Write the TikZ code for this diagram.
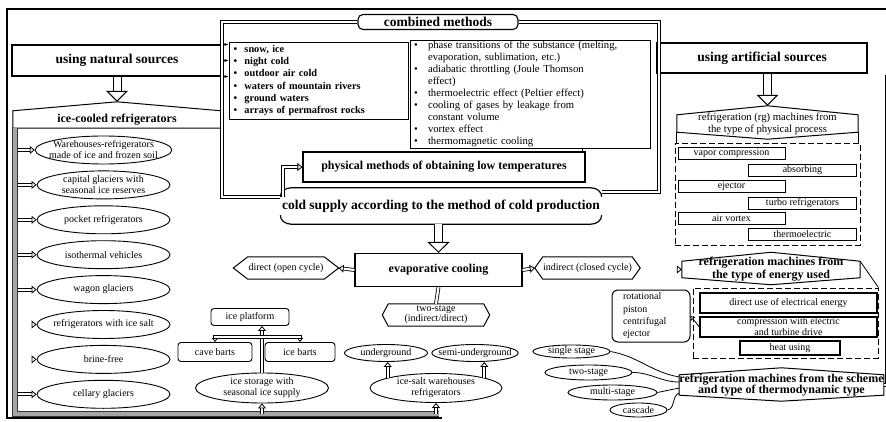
\documentclass[tikz,border=0pt]{standalone}
\usepackage{fontspec}
\setmainfont{Liberation Serif}
\usepackage{tikz}
\usetikzlibrary{arrows.meta,positioning,shapes.geometric}

\newcommand{\fbig}{\fontsize{13.5}{15}\selectfont\bfseries}
\newcommand{\fmid}{\fontsize{12}{13}\selectfont\bfseries}
\newcommand{\fsml}{\fontsize{10}{11}\selectfont}
\newcommand{\itm}[1]{\makebox[11pt][l]{\textbullet}#1}
\newcommand{\itmb}[1]{\makebox[14pt][l]{\textbullet}#1}
% outline of a plain node: peak on top and bottom / points left and right
\newcommand{\hexv}[3]{\draw[line width=1pt] (#1.north west) -- ([yshift=#2]#1.north) -- (#1.north east) -- (#1.south east) -- ([yshift=-#3]#1.south) -- (#1.south west) -- cycle;}
\newcommand{\hexh}[2]{\draw[line width=1pt] (#1.north west) -- (#1.north east) -- ([xshift=#2]#1.east) -- (#1.south east) -- (#1.south west) -- ([xshift=-#2]#1.west) -- cycle;}

\begin{document}
\begin{tikzpicture}[
  x=1pt, y=-1pt,
  box/.style={draw, line width=1.1pt, inner sep=0pt, align=center, font=\fsml},
  rbox/.style={box, rounded corners=3pt},
  oval/.style={draw, ellipse, line width=0.9pt, inner xsep=-6pt, inner ysep=-3pt, align=center, font=\fsml},
  hex/.style={inner xsep=0pt, inner ysep=-4pt, align=center, font=\fsml},
  grp/.style={draw, line width=0.9pt, dash pattern=on 6pt off 3pt, inner sep=0pt},
  dbl/.style={draw, line width=0.8pt, double, double distance=2.2pt},
  sdbl/.style={dbl, -{Triangle[open, length=5pt, width=8pt]}},
  blk/.style={draw, line width=1pt, double, double distance=7pt, -{Triangle[open, length=11pt, width=22pt]}},
  gbar/.style={draw=black!80, line width=0.8pt, double=black!35, double distance=4pt},
]
  \useasboundingbox (0,0) rectangle (886,422);
  \draw[line width=1.2pt] (442,418) -- (7,418) -- (7,9) -- (886,9);

  % top row
  \node[rbox, font=\fbig, rounded corners=5pt, minimum width=160pt, minimum height=15pt] (combined) at (438,22) {combined methods};
  \node[box, font=\fbig, minimum width=210pt, minimum height=31pt] (nat) at (117,60.5) {using natural sources};
  \node[box, font=\fbig, minimum width=210pt, minimum height=30pt] (art) at (762,58) {using artificial sources};
  \node[box, line width=0.9pt, font={\fontsize{10.3}{12.3}\selectfont\bfseries}, align=left, text width=170pt, minimum width=179pt, minimum height=77pt] (natlist) at (318.5,80.5)
    {\itm{snow, ice}\\ \itm{night cold}\\ \itm{outdoor air cold}\\ \itm{waters of mountain rivers}\\ \itm{ground waters}\\ \itm{arrays of permafrost rocks}};
  \node[box, line width=0.9pt, font={\fontsize{10.7}{12}\selectfont}, align=left, text width=232pt, minimum width=240pt, minimum height=108pt] (artlist) at (530,94)
    {\itmb{phase transitions of the substance (melting,}\\ \hspace*{14pt}evaporation, sublimation, etc.)\\
     \itmb{adiabatic throttling (Joule Thomson}\\ \hspace*{14pt}effect)\\
     \itmb{thermoelectric effect (Peltier effect)}\\
     \itmb{cooling of gases by leakage from}\\ \hspace*{14pt}constant volume\\
     \itmb{vortex effect}\\ \itmb{thermomagnetic cooling}};
  \node[box, font=\fmid, minimum width=282pt, minimum height=30pt] (phys) at (444,167) {physical methods of obtaining low temperatures};
  \node[font=\fbig, inner sep=0pt, minimum width=321pt, minimum height=36pt] (cold) at (441,206) {cold supply according to the method of cold production};
  \draw[line width=1.2pt] ([yshift=-9pt]cold.north west) to[out=90,in=180] ([xshift=11pt]cold.north west) -- ([xshift=-11pt]cold.north east) to[out=0,in=90] ([yshift=-9pt]cold.north east);
  \draw[line width=1.2pt] ([yshift=9pt]cold.south west) to[out=-90,in=180] ([xshift=11pt]cold.south west) -- ([xshift=-11pt]cold.south east) to[out=0,in=-90] ([yshift=9pt]cold.south east);

  % evaporative cooling
  \node[box, font=\fmid, minimum width=167pt, minimum height=33pt] (evap) at (438.5,270) {evaporative cooling};
  \node[hex, minimum width=76pt, minimum height=22pt] (direct) at (286,268) {direct (open cycle)};
  \hexh{direct}{14.5pt}
  \node[hex, minimum width=89pt, minimum height=22pt] (indirect) at (587.5,268) {indirect (closed cycle)};
  \hexh{indirect}{8pt}
  \node[hex, font={\fontsize{10}{10}\selectfont}, minimum width=95pt, minimum height=22pt] (twostage) at (436,315) {two-stage\\(indirect/direct)};
  \hexh{twostage}{6pt}

  % natural sources column
  \node[hex, font=\fmid, minimum width=208pt, minimum height=17pt] (ice) at (117,119.5) {ice-cooled refrigerators};
  \hexv{ice}{9pt}{0pt}
  \node[oval, minimum width=133pt, minimum height=28pt] (whouse) at (103.5,150) {Warehouses-refrigerators\\made of ice and frozen soil};
  \node[oval, minimum width=133pt, minimum height=28pt, below=6pt of whouse] (capital) {capital glaciers with\\seasonal ice reserves};
  \node[oval, minimum width=133pt, minimum height=28pt, below=6pt of capital] (pocket) {pocket refrigerators};
  \node[oval, minimum width=133pt, minimum height=28pt, below=6pt of pocket] (isotherm) {isothermal vehicles};
  \node[oval, minimum width=133pt, minimum height=28pt, below=6pt of isotherm] (wagon) {wagon glaciers};
  \node[oval, minimum width=133pt, minimum height=28pt, below=6pt of wagon] (icesaltr) {refrigerators with ice salt};
  \node[oval, minimum width=133pt, minimum height=28pt, below=6pt of icesaltr] (brine) {brine-free};
  \node[oval, minimum width=133pt, minimum height=28pt, below=6pt of brine] (cellar) {cellary glaciers};

  % ice storages
  \node[rbox, line width=0.9pt, minimum width=78pt, minimum height=17pt] (iceplat) at (250,317) {ice platform};
  \node[rbox, line width=0.9pt, minimum width=74pt, minimum height=19pt] (cave) at (215,352) {cave barts};
  \node[rbox, line width=0.9pt, minimum width=70pt, minimum height=19pt] (icebarts) at (300,352) {ice barts};
  \node[oval, minimum width=133pt, minimum height=30pt] (storage) at (262,388) {ice storage with\\seasonal ice supply};
  \node[oval, minimum width=83pt, minimum height=17pt] (under) at (386,353) {underground};
  \node[oval, minimum width=84pt, minimum height=17pt] (semi) at (475,353) {semi-underground};
  \node[oval, minimum width=132pt, minimum height=29pt] (icesalt) at (436,388) {ice-salt warehouses\\refrigerators};

  % artificial sources column
  \node[hex, font={\fontsize{10.7}{12}\selectfont}, minimum width=181pt, minimum height=17pt] (rg) at (767.5,123.5) {refrigeration (rg) machines from\\the type of physical process};
  \hexv{rg}{9pt}{7pt}
  \node[grp, minimum width=185pt, minimum height=102pt] (procgrp) at (767.5,194) {};
  \node[box, line width=0.9pt, minimum width=107pt, minimum height=12pt] (vapor) at (731.5,153) {vapor compression};
  \node[box, line width=0.9pt, minimum width=108pt, minimum height=12pt] (absorb) at (802.5,170) {absorbing};
  \node[box, line width=0.9pt, minimum width=107pt, minimum height=12pt] (ejector) at (731.5,186.5) {ejector};
  \node[box, line width=0.9pt, minimum width=108pt, minimum height=12pt] (turbo) at (802.5,203) {turbo refrigerators};
  \node[box, line width=0.9pt, minimum width=107pt, minimum height=12pt] (vortex) at (731.5,218.5) {air vortex};
  \node[box, line width=0.9pt, minimum width=108pt, minimum height=12pt] (thermoel) at (802.5,234.5) {thermoelectric};

  \node[hex, font=\fmid, minimum width=178pt, minimum height=15pt] (energy) at (771,269.5) {refrigeration machines from\\the type of energy used};
  \hexv{energy}{9pt}{7pt}
  \node[grp, minimum width=185pt, minimum height=70pt] (enggrp) at (785.5,323) {};
  \node[box, minimum width=177pt, minimum height=20pt] (elec) at (788.5,303) {direct use of electrical energy};
  \node[box, minimum width=177pt, minimum height=20pt] (compr) at (788.5,327) {compression with electric\\and turbine drive};
  \node[box, minimum width=100pt, minimum height=14pt] (heat) at (790,348) {heat using};
  \node[rbox, line width=1pt, rounded corners=6pt, align=left, font={\fontsize{10}{12.3}\selectfont}, text width=56pt, minimum width=78pt, minimum height=52pt] (drives) at (651,316) {rotational\\piston\\centrifugal\\ejector};

  \node[hex, font={\fontsize{12}{11.5}\selectfont\bfseries}, minimum width=193pt, minimum height=20pt] (thermo) at (781.5,385) {refrigeration machines from the scheme\\and type of thermodynamic type};
  \hexv{thermo}{7pt}{6pt}
  \node[oval, minimum width=77pt, minimum height=13pt] (single) at (571.5,351.5) {single stage};
  \node[oval, minimum width=87pt, minimum height=15pt] (twost) at (588.5,372.5) {two-stage};
  \node[oval, minimum width=89pt, minimum height=15pt] (multi) at (612.5,392.5) {multi-stage};
  \node[oval, minimum width=57pt, minimum height=14pt] (cascade) at (638.5,410) {cascade};

  % frame of the combined methods
  \coordinate (fl) at (222,197);
  \coordinate (fr) at (659,192);
  \draw[dbl] (combined.west) -| (fl) -- (fl -| cold.west);
  \draw[dbl] (combined.east) -| (fr) -- (fr -| cold.east);
  \draw[sdbl] ([xshift=3pt]fl -| cold.west) |- (phys.west);
  \draw[line width=1pt] ([xshift=-3pt]phys.north east) -- ([xshift=-3pt]phys.north east |- artlist.south);
  \draw[-{Latex[length=4pt]}] (nat.north east) -- (natlist.west |- nat.north east);
  \draw[-{Latex[length=4pt]}] (nat.east) -- (natlist.west |- nat.east);
  \draw[-{Latex[length=4pt]}] (nat.south east) -- (natlist.west |- nat.south east);

  % main arrows
  \draw[blk] (nat.south) -- ([yshift=9pt]ice.north);
  \draw[blk] (evap.north |- cold.south) -- (evap.north);
  \draw[blk] (rg.north |- art.south) -- ([yshift=9pt]rg.north);
  \draw[sdbl] (evap.west) -- ([xshift=14.5pt]direct.east);
  \draw[sdbl] (evap.east) -- ([xshift=-8pt]indirect.west);
  \draw[dbl] (evap.south) -- (twostage.north);

  % grey bar of the natural column
  \coordinate (bar) at (15,414);
  \draw[sdbl] (whouse.west -| bar) -- (whouse.west);
  \draw[sdbl] (capital.west -| bar) -- (capital.west);
  \draw[sdbl] (pocket.west -| bar) -- (pocket.west);
  \draw[sdbl] (isotherm.west -| bar) -- (isotherm.west);
  \draw[sdbl] (wagon.west -| bar) -- (wagon.west);
  \draw[sdbl] (icesaltr.west -| bar) -- (icesaltr.west);
  \draw[sdbl] (brine.west -| bar) -- (brine.west);
  \draw[sdbl] (cellar.west -| bar) -- (cellar.west);
  \draw[gbar] (bar |- ice.south) -- (bar) -- ([xshift=3pt]bar -| icesalt.south);
  \draw[sdbl] (bar -| icesalt.south) -- (icesalt.south);
  \draw[sdbl] (bar -| storage.south) -- (storage.south);

  \coordinate (tj) at (262,337);
  \draw[sdbl] (storage.north) -- (storage.north |- iceplat.south);
  \draw[sdbl, -{Triangle[open, length=4pt, width=6pt]}] (tj) -| (cave.north);
  \draw[sdbl, -{Triangle[open, length=4pt, width=6pt]}] (tj) -| (icebarts.north);
  \draw[sdbl] (icesalt.168) -- (icesalt.168 |- under.south);
  \draw[sdbl] (icesalt.12) -- (icesalt.12 |- semi.south);

  % artificial column links
  \draw[sdbl] ([xshift=10pt]art.south west) |- (energy.west);
  \draw[dbl] (art.south east) -| ([xshift=3pt]thermo.east) -- (thermo.east);
  \draw[line width=0.8pt] (rg.south west) -- (rg.south west |- procgrp.north);
  \draw[line width=0.8pt] (rg.south east) -- (rg.south east |- procgrp.north);
  \draw[line width=0.8pt] (energy.north east) -- (enggrp.north east);
  \draw[line width=0.8pt, -{Triangle[open, length=4pt, width=6pt]}] (compr.west) -- (drives.east);
  \draw[line width=0.8pt] (single.east) to[out=-10,in=170] ([yshift=8pt]thermo.west);
  \draw[line width=0.8pt] (twost.east) to[out=0,in=180] ([yshift=3pt]thermo.west);
  \draw[line width=0.8pt] (multi.east) -- ([yshift=-3pt]thermo.west);
  \draw[line width=0.8pt] (cascade.east) to[out=10,in=200] ([yshift=-8pt]thermo.west);
\end{tikzpicture}
\end{document}
